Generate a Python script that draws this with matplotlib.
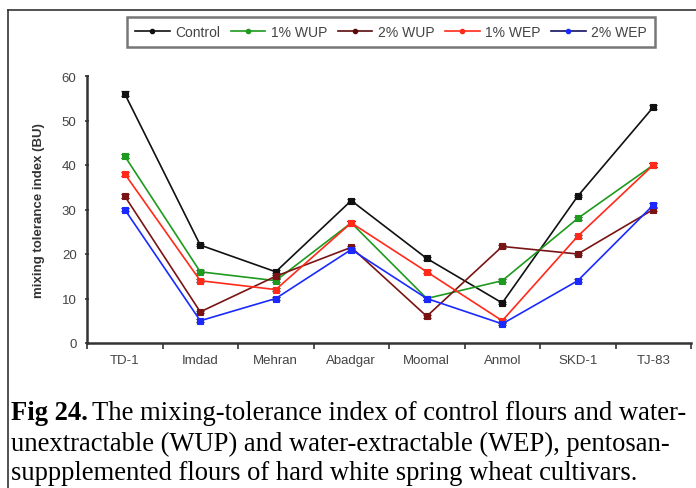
import matplotlib
matplotlib.use("Agg")
import matplotlib.pyplot as plt
from matplotlib.lines import Line2D
import numpy as np

cultivars = ["TD-1", "Imdad", "Mehran", "Abadgar", "Moomal", "Anmol", "SKD-1", "TJ-83"]
control = [56, 22, 16, 32, 19, 9, 33, 53]
wup1 = [42, 16, 14, 27, 10, 14, 28, 40]
wup2 = [33, 7, 15, 21.5, 6, 21.7, 20, 30]
wep1 = [38, 14, 12, 27, 16, 5, 24, 40]
wep2 = [30, 5, 10, 21, 10, 4.3, 14, 31]
err_control = [0.6, 0.3, 0.3, 0.4, 0.3, 0.3, 0.3, 0.5]
err_small = [0.4, 0.3, 0.3, 0.4, 0.3, 0.3, 0.3, 0.4]
series_names = ["Control", "1% WUP", "2% WUP", "1% WEP", "2% WEP"]
yticks = [0, 10, 20, 30, 40, 50, 60]

colors = ["#111111", "#1e9a1e", "#7a1414", "#ff2a1a", "#1a2aff"]
data = [control, wup1, wup2, wep1, wep2]
errs = [err_control, err_small, err_small, err_small, err_small]

W, H = 696, 489
fig = plt.figure(figsize=(W / 100, H / 100), dpi=100)
plt.rcParams["font.family"] = ["Liberation Sans", "DejaVu Sans"]

ax = fig.add_axes([87 / W, 1 - 344 / H, (691 - 87) / W, (344 - 77) / H])
x = np.arange(len(cultivars))
for vals, e, c, name in zip(data, errs, colors, series_names):
    ax.errorbar(x, vals, yerr=e, color=c, lw=1.2, marker="s", markersize=5,
                markeredgecolor=c, markeredgewidth=0.8, ecolor="#111111",
                elinewidth=1.0, capsize=3, label=name)

ax.set_xlim(-0.5, 7.5)
ax.set_ylim(0, 60)
ax.set_yticks(yticks)
ax.set_xticks(x)
ax.set_xticklabels(cultivars)
ax.set_xticks(np.arange(-0.5, 8, 1.0), minor=True)
ax.tick_params(axis="x", which="major", length=0, pad=8, labelsize=9.5, labelcolor="#444444")
ax.tick_params(axis="x", which="minor", length=4, width=1.2, direction="out", color="#333333")
ax.tick_params(axis="y", length=3, width=1.2, direction="inout", labelsize=9.5,
               labelcolor="#444444", color="#333333", pad=6)
for s in ["top", "right"]:
    ax.spines[s].set_visible(False)
for s in ["left", "bottom"]:
    ax.spines[s].set_linewidth(1.8)
    ax.spines[s].set_color("#333333")
ax.set_ylabel("mixing tolerance index (BU)", fontsize=9.5, fontweight="bold",
              color="#333333", labelpad=12)

handles = [Line2D([0], [0], color=c, lw=1.2, marker="o", markersize=3) for c in colors]
handles[2] = Line2D([0], [0], color="#5a0a0a", lw=1.2, marker="o", markersize=3)
handles[4] = Line2D([0], [0], color="#101060", lw=1.2, marker="o", markerfacecolor="#1a2aff",
                    markeredgecolor="#1a2aff", markersize=3)
leg = fig.legend(handles, series_names, loc="center", bbox_to_anchor=(391 / W, 1 - 33 / H),
                 ncol=5, fontsize=10, handlelength=2.5, handletextpad=0.4,
                 columnspacing=0.75, frameon=True, fancybox=False, borderpad=0.6)
leg.get_frame().set_edgecolor("#555555")
leg.get_frame().set_linewidth(1.8)
for t in leg.get_texts():
    t.set_color("#444444")

# outer frame
fig.add_artist(Line2D([8 / W, 8 / W], [0, 1 - 11 / H], color="#333333", lw=1.2,
                      transform=fig.transFigure))
fig.add_artist(Line2D([8 / W, 1], [1 - 11 / H, 1 - 11 / H], color="#333333", lw=1.2,
                      transform=fig.transFigure))

# caption
serif = ["Liberation Serif", "DejaVu Serif"]
fs = 19.2
t1 = fig.text(11 / W, 1 - 414 / H, "Fig 24.", fontsize=fs, fontweight="bold",
              family=serif, va="center", ha="left")
fig.canvas.draw()
bb = t1.get_window_extent()
fig.text(bb.x1 / W + 0.006, 1 - 414 / H,
         "The mixing-tolerance index of control flours and water-",
         fontsize=fs, family=serif, va="center", ha="left")
fig.text(11 / W, 1 - 444 / H,
         "unextractable (WUP) and water-extractable (WEP), pentosan-",
         fontsize=fs, family=serif, va="center", ha="left")
fig.text(11 / W, 1 - 474 / H,
         "suppplemented flours of hard white spring wheat cultivars.",
         fontsize=fs, family=serif, va="center", ha="left")

fig.savefig("out.png", dpi=100)
